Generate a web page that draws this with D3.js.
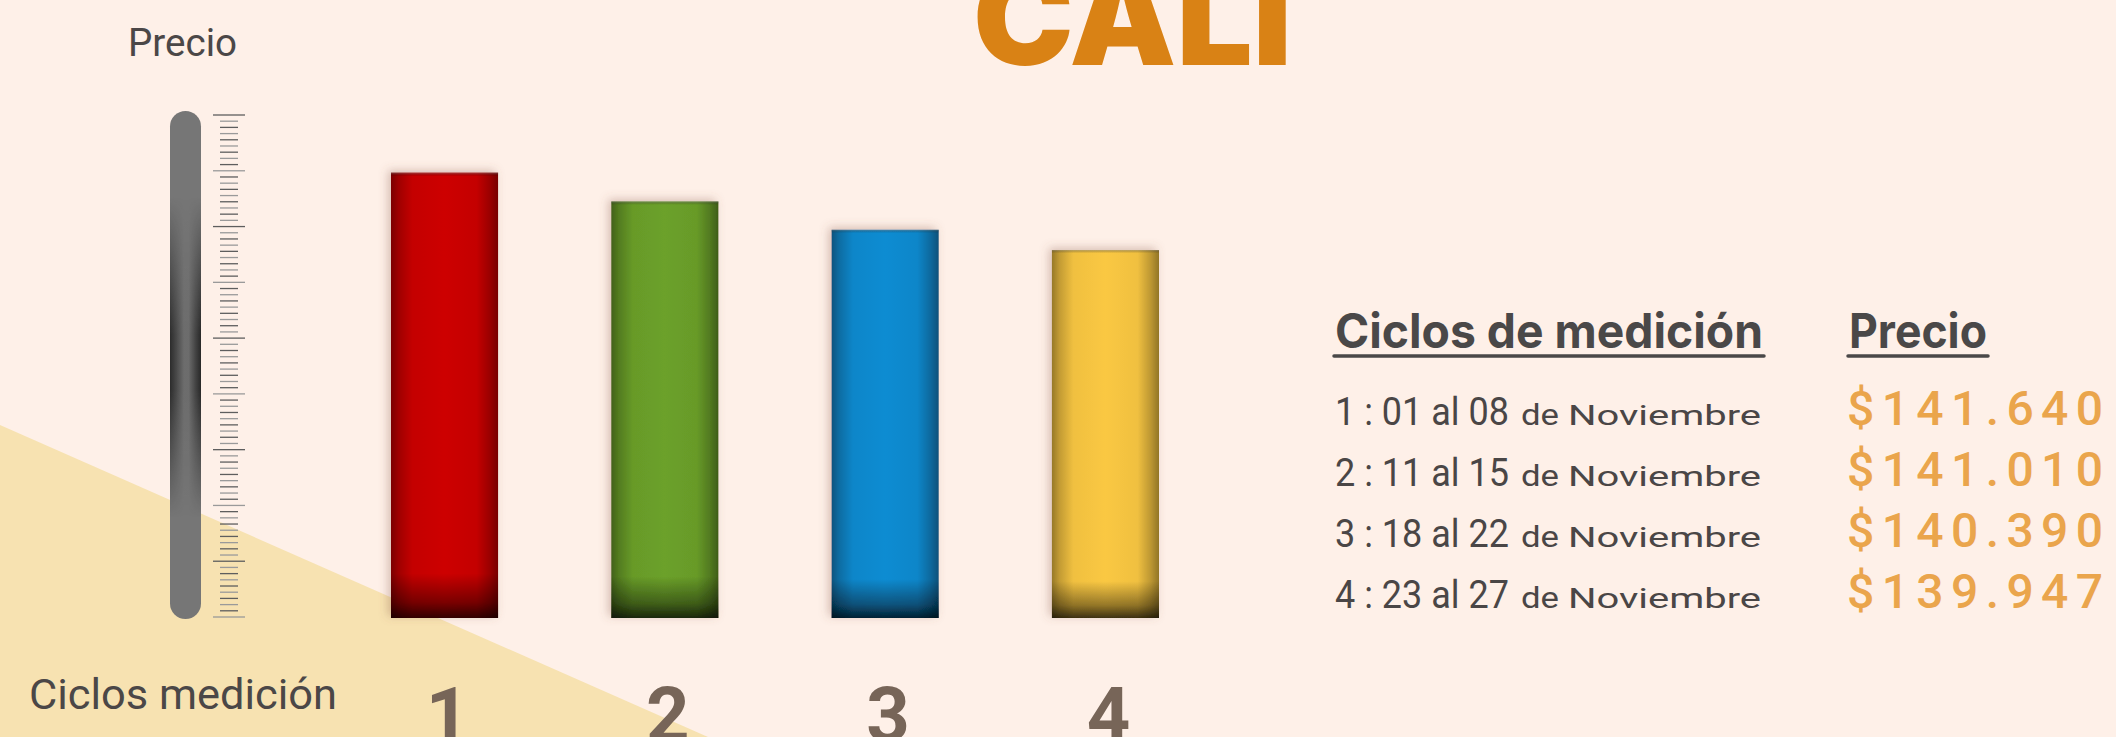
<!DOCTYPE html>
<html>
<head>
<meta charset="utf-8">
<script src="https://cdn.jsdelivr.net/npm/d3@7"></script>
<style>
    html, body { margin: 0; padding: 0; background: #fef0e8; overflow: hidden; }
    text { font-family: Roboto, "Open Sans", sans-serif; }
</style>
</head>
<body>
<div id="chart"></div>
<script>
// Precio por ciclo de medición - Cali

// datos
const cycles = ["1", "2", "3", "4"];
const ranges = ["01 al 08", "11 al 15", "18 al 22", "23 al 27"];
const month = "Noviembre";
const prices = [141640, 141010, 140390, 139947];
const barColors = ["#c40000", "#679a28", "#0f86c9", "#f0c040"];
const rulerTicks = d3.range(0, 82);

const width = 2116, height = 737;

const svg = d3.select('#chart')
    .append('svg')
    .attr('width', width)
    .attr('height', height);

const defs = svg.append('defs');

// fondo
svg.append('rect')
    .attr('width', width)
    .attr('height', height)
    .style('fill', '#fef0e8');

// triángulo amarillo abajo a la izquierda
svg.append('path')
    .attr('d', d3.line()([[0, 425], [708, 737], [0, 737]]) + 'Z')
    .style('fill', '#f7e2b1');

// escalas
const x = d3.scaleBand()
    .domain(cycles)
    .range([391, 1159])
    .paddingInner(0.514)
    .paddingOuter(0);

const y = d3.scaleLinear()
    .domain([131900, 142900])
    .range([618, 115]);

const ruler = d3.scaleLinear()
    .domain([0, 81])
    .range([617, 115]);

// ---- termómetro / regla ----
const tubeShade = defs.append('linearGradient')
    .attr('id', 'tubeShade')
    .attr('x1', 0).attr('x2', 1).attr('y1', 0).attr('y2', 0);
[[0, 0.8], [0.2, 0.5], [0.45, 0.1], [0.6, 0.1], [0.8, 0.5], [1, 0.85]].forEach(([o, a]) => {
    tubeShade.append('stop').attr('offset', o).attr('stop-color', '#1a1a1a').attr('stop-opacity', a);
});

const tubeMaskGrad = defs.append('linearGradient')
    .attr('id', 'tubeMaskGrad')
    .attr('x1', 0).attr('x2', 0).attr('y1', 0).attr('y2', 1);
[[0, '#000'], [0.17, '#000'], [0.44, '#fff'], [0.55, '#fff'], [0.8, '#000'], [1, '#000']].forEach(([o, c]) => {
    tubeMaskGrad.append('stop').attr('offset', o).attr('stop-color', c);
});

const tubeMask = defs.append('mask')
    .attr('id', 'tubeMask')
    .attr('maskContentUnits', 'objectBoundingBox');
tubeMask.append('rect')
    .attr('width', 1).attr('height', 1)
    .style('fill', 'url(#tubeMaskGrad)');

const tube = svg.append('g');
tube.append('rect')
    .attr('x', 170).attr('y', 111)
    .attr('width', 31).attr('height', 508)
    .attr('rx', 15.5)
    .style('fill', '#767676');
tube.append('rect')
    .attr('x', 170).attr('y', 111)
    .attr('width', 31).attr('height', 508)
    .attr('rx', 15.5)
    .attr('mask', 'url(#tubeMask)')
    .style('fill', 'url(#tubeShade)');

svg.append('g')
    .selectAll('line')
    .data(rulerTicks)
    .join('line')
    .attr('x1', d => d % 9 === 0 ? 213 : 220)
    .attr('x2', d => d % 9 === 0 ? 245 : 238)
    .attr('y1', d => ruler(d))
    .attr('y2', d => ruler(d))
    .style('stroke', d => d % 2 ? '#5e5e5e' : '#9a9a9a')
    .style('stroke-width', 1.3);

// ---- barras ----
const shadow = defs.append('filter')
    .attr('id', 'barShadow')
    .attr('x', '-30%').attr('y', '-10%')
    .attr('width', '160%').attr('height', '120%');
shadow.append('feDropShadow')
    .attr('dx', -3).attr('dy', -2)
    .attr('stdDeviation', 5)
    .attr('flood-color', '#8a5a4a')
    .attr('flood-opacity', 0.35);

barColors.forEach((c, i) => {
    const g = defs.append('linearGradient')
        .attr('id', 'barFill' + i)
        .attr('x1', 0).attr('x2', 1).attr('y1', 0).attr('y2', 0);
    const col = d3.color(c);
    [[0, col.darker(1.3)], [0.07, col.darker(0.6)], [0.2, col], [0.5, col.brighter(0.12)],
     [0.8, col], [0.92, col.darker(0.65)], [1, col.darker(1.4)]].forEach(([o, s]) => {
        g.append('stop').attr('offset', o).attr('stop-color', s.formatHex());
    });
});

const barShade = defs.append('linearGradient')
    .attr('id', 'barShade')
    .attr('x1', 0).attr('x2', 0).attr('y1', 0).attr('y2', 1);
[[0, '#888', 0.5], [0.008, '#000', 0], [0.9, '#000', 0], [0.965, '#000', 0.4], [1, '#000', 0.75]].forEach(([o, c, a]) => {
    barShade.append('stop').attr('offset', o).attr('stop-color', c).attr('stop-opacity', a);
});

const bars = svg.append('g')
    .selectAll('g')
    .data(prices)
    .join('g')
    .attr('filter', 'url(#barShadow)');

bars.append('rect')
    .attr('x', (d, i) => x(cycles[i]))
    .attr('y', d => y(d))
    .attr('width', x.bandwidth())
    .attr('height', d => y(y.domain()[0]) - y(d))
    .style('fill', (d, i) => `url(#barFill${i})`);

bars.append('rect')
    .attr('x', (d, i) => x(cycles[i]))
    .attr('y', d => y(d))
    .attr('width', x.bandwidth())
    .attr('height', d => y(y.domain()[0]) - y(d))
    .style('fill', 'url(#barShade)');

// números de ciclo bajo las barras
svg.append('g')
    .selectAll('text')
    .data(cycles)
    .join('text')
    .attr('x', d => x(d) + x.bandwidth() / 2 + 3)
    .attr('y', 741)
    .attr('text-anchor', 'middle')
    .style('font-size', '76px')
    .style('font-weight', 700)
    .style('fill', '#776558')
    .text(d => d);

// títulos de ejes
svg.append('text')
    .attr('x', 128).attr('y', 56)
    .attr('textLength', 109)
    .attr('lengthAdjust', 'spacingAndGlyphs')
    .style('font-size', '38px')
    .style('fill', '#4b4747')
    .text('Precio');

svg.append('text')
    .attr('x', 29).attr('y', 709)
    .attr('textLength', 308)
    .attr('lengthAdjust', 'spacingAndGlyphs')
    .style('font-size', '42px')
    .style('fill', '#4b4747')
    .text('Ciclos medición');

// título CALI (cortado arriba)
svg.append('text')
    .attr('x', 973).attr('y', 65)
    .attr('textLength', 319)
    .attr('lengthAdjust', 'spacingAndGlyphs')
    .style('font-family', 'Inter, sans-serif')
    .style('font-size', '132px')
    .style('font-weight', 900)
    .style('fill', '#d98215')
    .text('CALI');

// ---- tabla de la derecha ----
const table = svg.append('g');

const headers = [
    { label: 'Ciclos de medición', x: 1335, w: 428 },
    { label: 'Precio', x: 1849, w: 138 }
];

table.selectAll('text.head')
    .data(headers)
    .join('text')
    .attr('class', 'head')
    .attr('x', d => d.x).attr('y', 348)
    .attr('textLength', d => d.w)
    .attr('lengthAdjust', 'spacingAndGlyphs')
    .style('font-family', 'Inter, sans-serif')
    .style('font-size', '48px')
    .style('font-weight', 700)
    .style('fill', '#4a4848')
    .text(d => d.label);

table.selectAll('line.under')
    .data(headers)
    .join('line')
    .attr('class', 'under')
    .attr('x1', d => d.x - 1).attr('x2', d => d.x + d.w + 1)
    .attr('y1', 356).attr('y2', 356)
    .style('stroke', '#4a4848')
    .style('stroke-width', 3.5)
    .style('stroke-linecap', 'round');

const rowY = d3.scaleLinear().domain([0, cycles.length - 1]).range([425, 608]);

const fmt = d3.formatLocale({ decimal: ',', thousands: '.', grouping: [3], currency: ['$', ''] }).format('$,');

const rows = table.selectAll('g.row')
    .data(cycles)
    .join('g')
    .attr('class', 'row')
    .attr('transform', (d, i) => `translate(0,${rowY(i)})`);

rows.append('text')
    .attr('x', 1335)
    .attr('textLength', 174)
    .attr('lengthAdjust', 'spacingAndGlyphs')
    .style('font-size', '38px')
    .style('fill', '#4a4646')
    .text((d, i) => `${d} : ${ranges[i]}`);

rows.append('text')
    .attr('x', 1521)
    .attr('textLength', 38)
    .attr('lengthAdjust', 'spacingAndGlyphs')
    .style('font-size', '30px')
    .style('fill', '#4a4646')
    .text('de');

rows.append('text')
    .attr('x', 1568)
    .attr('textLength', 193)
    .attr('lengthAdjust', 'spacingAndGlyphs')
    .style('font-size', '28px')
    .style('fill', '#4a4646')
    .text(month);

rows.append('text')
    .attr('x', 1847)
    .attr('textLength', 256)
    .attr('lengthAdjust', 'spacing')
    .style('font-size', '48px')
    .style('font-weight', 500)
    .style('fill', '#eaa54c')
    .text((d, i) => fmt(prices[i]));
</script>
</body>
</html>
